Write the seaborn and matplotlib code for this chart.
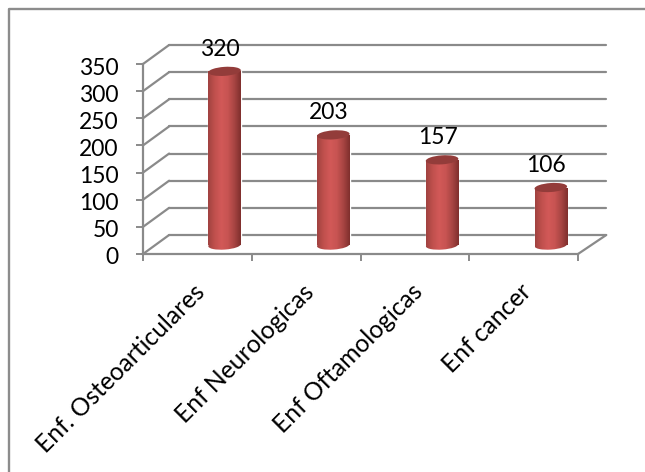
import numpy as np
import matplotlib
matplotlib.use('Agg')
import matplotlib.pyplot as plt
from matplotlib.colors import LinearSegmentedColormap
from matplotlib.lines import Line2D
from matplotlib.patches import Ellipse
from matplotlib.transforms import Affine2D
import seaborn as sns

categories = ['Enf. Osteoarticulares', 'Enf Neurologicas', 'Enf Oftamologicas', 'Enf cancer']
values = [320, 203, 157, 106]
y_ticks = [0, 50, 100, 150, 200, 250, 300, 350]

grey = '#8a8a8a'
depth_x = 0.24  # back wall offset, in category units
depth_y = 35    # back wall offset, in value units

sns.set_theme(style='white')
plt.rcParams['font.family'] = ['Lato', 'DejaVu Sans']

fig = plt.figure(figsize=(6.45, 4.72), dpi=100)
fig.patch.set_facecolor('white')
# chart frame, only left and top are inside the picture
fig.add_artist(Line2D([9 / 645, 9 / 645, 1], [0, 1 - 9 / 472, 1 - 9 / 472], transform=fig.transFigure,
                      color='#8c8c8c', lw=1.7))

ax = fig.add_axes([143 / 645, 1 - 254 / 472, 435 / 645, 190 / 472])
sns.barplot(x=categories, y=values, color='#c0504d', width=0.3, saturation=1, ax=ax, zorder=5)

ax.set_xlim(-0.5, 3.5)
ax.set_ylim(0, 350)
ax.patch.set_alpha(0)

# back wall and side wall lines
for v in y_ticks:
    ax.plot([-0.5 + depth_x, 3.5 + depth_x + 0.02], [v + depth_y, v + depth_y], color=grey, lw=1.6, clip_on=False, zorder=1)
    ax.plot([-0.5, -0.5 + depth_x], [v, v + depth_y], color=grey, lw=1.6, clip_on=False, zorder=1)
ax.plot([3.5, 3.5 + depth_x + 0.02], [0, depth_y], color=grey, lw=1.6, clip_on=False, zorder=1)

# cylinders: shift the bars to the middle of the floor, then shade them
cyl = LinearSegmentedColormap.from_list('cyl', ['#a04240', '#c0504d', '#d25958', '#c85452', '#a84543', '#7f2f2d'])
grad = np.linspace(0, 1, 128).reshape(1, -1)
for i, p in enumerate(ax.patches):
    p.set_x(p.get_x() + 0.25)
    p.set_y(depth_y * 0.47)
    p.set_clip_on(False)
    x0, x1 = p.get_x(), p.get_x() + p.get_width()
    y0, y1 = p.get_y(), p.get_y() + p.get_height()
    xpx0, ypx0 = ax.transData.transform((x0, y0))
    xpx1, ypx1 = ax.transData.transform((x1, y1))
    w = xpx1 - xpx0
    base = Ellipse(((xpx0 + xpx1) / 2, ypx0), w, 9, angle=4, transform=None, facecolor='#c0504d', zorder=5)
    ax.add_artist(base)
    for clip in (p, base):
        im = ax.imshow(grad, cmap=cyl, aspect='auto', extent=(x0, x1, y0 - 10, y1), zorder=6, clip_on=True)
        im.set_clip_path(clip)
    top = Ellipse(((xpx0 + xpx1) / 2, ypx1), w, 9, angle=4, transform=None, facecolor='#933c3a', edgecolor='none', zorder=7)
    ax.add_artist(top)
    ax.annotate(str(values[i]), xy=((x0 + x1) / 2 - 0.04, y1), xytext=(0, 22), textcoords='offset pixels',
                ha='center', va='center', fontsize=16.5, color='black', zorder=8, annotation_clip=False)

ax.set_xlim(-0.5, 3.5)
ax.set_ylim(0, 350)

for s in ['top', 'right']:
    ax.spines[s].set_visible(False)
for s in ['left', 'bottom']:
    ax.spines[s].set_color(grey)
    ax.spines[s].set_linewidth(1.6)

ax.set_yticks(y_ticks)
ax.set_xticks([-0.5, 0.5, 1.5, 2.5, 3.5])
ax.set_xticklabels([])
ax.set_xticks([0, 1, 2, 3], minor=True)
ax.set_xticklabels(categories, minor=True, rotation=45, ha='right', rotation_mode='anchor', fontsize=17.7, color='black')
ax.tick_params(axis='x', which='major', bottom=True, length=5, width=1.4, color=grey)
ax.tick_params(axis='x', which='minor', bottom=False, length=0, pad=18)
ax.tick_params(axis='y', left=True, length=5, width=1.4, color=grey, pad=12.5, labelsize=16.5, labelcolor='black')
ax.set_xlabel('')
ax.set_ylabel('')
ax.grid(False)

# nudge labels a few pixels to sit where the reference has them
for t in ax.get_xticklabels(minor=True):
    t.set_transform(t.get_transform() + Affine2D().translate(-4, -1))
for t in ax.get_yticklabels():
    t.set_transform(t.get_transform() + Affine2D().translate(0, -2))

fig.savefig('out.png', dpi=100)
